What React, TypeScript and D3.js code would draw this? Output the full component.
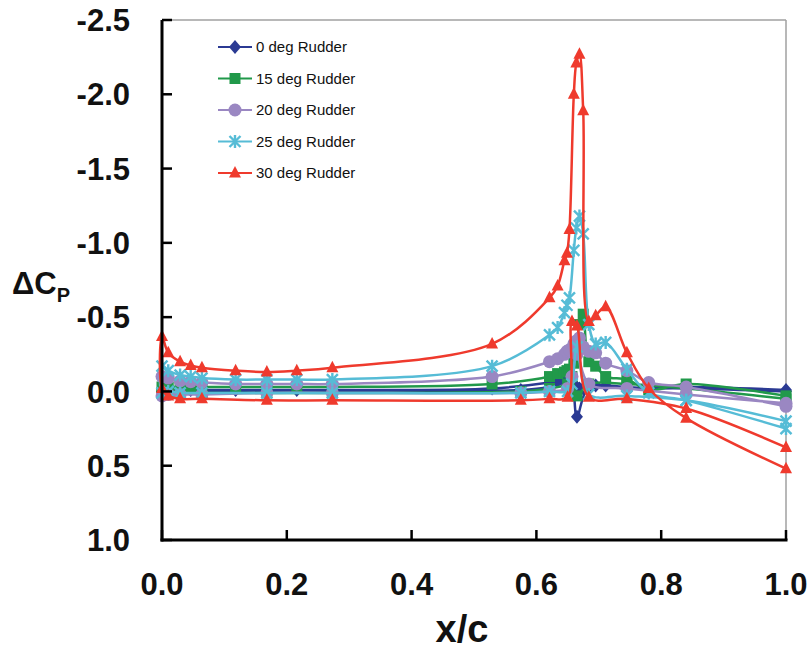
import * as d3 from "d3"

// chordwise stations (x/c)
const upperX = [0, 0.01, 0.029, 0.046, 0.064, 0.118, 0.168, 0.216, 0.273, 0.529, 0.621, 0.634, 0.645, 0.649, 0.653, 0.66, 0.664, 0.669, 0.675, 0.684, 0.695, 0.711, 0.745, 0.78, 0.84, 1.0]
const lowerX = [0, 0.01, 0.029, 0.064, 0.168, 0.273, 0.575, 0.621, 0.65, 0.657, 0.665, 0.684, 0.745, 0.84, 1.0]

const seriesNames = ["0 deg Rudder", "15 deg Rudder", "20 deg Rudder", "25 deg Rudder", "30 deg Rudder"]

// upper surface ΔCp
const upper0 = [0.0, 0.0, -0.01, -0.01, -0.01, -0.01, -0.01, -0.01, -0.01, -0.02, -0.06, -0.07, -0.08, -0.09, -0.1, -0.05, -0.03, -0.02, -0.02, -0.03, -0.04, -0.04, -0.03, -0.02, -0.03, -0.01]
const upper15 = [-0.03, -0.03, -0.03, -0.03, -0.03, -0.03, -0.03, -0.03, -0.03, -0.05, -0.1, -0.12, -0.13, -0.14, -0.15, -0.19, -0.3, -0.45, -0.52, -0.2, -0.17, -0.1, -0.08, -0.01, -0.05, 0.03]
const upper20 = [-0.1, -0.09, -0.07, -0.065, -0.06, -0.05, -0.05, -0.05, -0.05, -0.1, -0.2, -0.22, -0.25, -0.27, -0.28, -0.32, -0.34, -0.36, -0.3, -0.27, -0.26, -0.19, -0.14, -0.06, -0.03, 0.1]
const upper25 = [-0.17, -0.14, -0.11, -0.1, -0.09, -0.08, -0.08, -0.08, -0.08, -0.17, -0.38, -0.43, -0.53, -0.58, -0.63, -0.95, -1.1, -1.18, -1.06, -0.45, -0.32, -0.33, -0.15, 0.01, 0.06, 0.25]
const upper30 = [-0.37, -0.26, -0.2, -0.175, -0.16, -0.14, -0.13, -0.14, -0.16, -0.32, -0.63, -0.71, -0.88, -0.93, -1.09, -2.0, -2.21, -2.27, -1.89, -0.47, -0.51, -0.57, -0.26, -0.02, 0.18, 0.52]

// lower surface ΔCp
const lower0 = [0.0, 0.0, 0.0, 0.0, 0.0, 0.0, -0.01, -0.03, -0.06, -0.05, 0.17, -0.03, -0.02, -0.02, 0.0]
const lower15 = [0.01, 0.01, 0.01, 0.01, 0.01, 0.01, 0.0, -0.02, -0.05, -0.1, 0.03, -0.05, -0.05, -0.02, 0.05]
const lower20 = [0.03, 0.02, 0.02, 0.02, 0.01, 0.01, 0.01, 0.0, -0.02, -0.1, -0.25, -0.05, -0.02, 0.02, 0.08]
const lower25 = [0.01, 0.0, 0.01, 0.01, 0.01, 0.01, 0.01, 0.0, 0.0, -0.05, -0.3, 0.02, 0.03, 0.06, 0.2]
const lower30 = [-0.02, 0.03, 0.05, 0.05, 0.06, 0.06, 0.06, 0.05, 0.04, -0.47, -0.44, 0.04, 0.05, 0.115, 0.377]

const yTicks = [-2.5, -2.0, -1.5, -1.0, -0.5, 0.0, 0.5, 1.0]
const xTicks = [0, 0.2, 0.4, 0.6, 0.8, 1.0]

const colors = ["#2b3a93", "#21994a", "#9a87c2", "#56bcd6", "#ef3a2d"]
const shapes = ["diamond", "square", "circle", "star", "triangle"]

const W = 812
const H = 652
const margin = { left: 162, right: 24, top: 20, bottom: 112 }
const FONT = "'Liberation Sans', Arial, sans-serif"

function Marker({ shape, x, y, color }: { shape: string; x: number; y: number; color: string }) {
  if (shape === "diamond") {
    return <path d={`M${x},${y - 7}L${x + 6},${y}L${x},${y + 7}L${x - 6},${y}Z`} fill={color} />
  }
  if (shape === "square") {
    return <rect x={x - 5.5} y={y - 5.5} width={11} height={11} fill={color} />
  }
  if (shape === "circle") {
    return <circle cx={x} cy={y} r={6.5} fill={color} />
  }
  if (shape === "triangle") {
    return <path d={`M${x},${y - 7}L${x + 6},${y + 4.5}L${x - 6},${y + 4.5}Z`} fill={color} />
  }
  // asterisk
  const a = 5.5
  return (
    <path
      d={`M${x - a},${y - a}L${x + a},${y + a}M${x - a},${y + a}L${x + a},${y - a}M${x},${y - a - 1}L${x},${y + a + 1}`}
      stroke={color}
      strokeWidth={2.4}
      fill="none"
    />
  )
}

export default function App() {
  const x = d3.scaleLinear().domain([0, 1]).range([margin.left, W - margin.right - 2])
  const y = d3.scaleLinear().domain([-2.5, 1.0]).range([margin.top, H - margin.bottom])

  const uppers = [upper0, upper15, upper20, upper25, upper30]
  const lowers = [lower0, lower15, lower20, lower25, lower30]

  // each run goes trailing edge -> leading edge on the lower side, then back on the upper side
  const series = seriesNames.map((name, i) => {
    const low = lowerX.map((xv, j) => ({ x: xv, v: lowers[i][j] })).reverse()
    const up = upperX.map((xv, j) => ({ x: xv, v: uppers[i][j] }))
    return { name, color: colors[i], shape: shapes[i], pts: [...low, ...up] }
  })

  const line = d3
    .line<{ x: number; v: number }>()
    .x((d) => x(d.x))
    .y((d) => y(d.v))
    .curve(d3.curveCatmullRom.alpha(0.5))

  const x0 = x(0)
  const x1 = x(1)
  const yTop = y(-2.5)
  const yBot = y(1.0)

  return (
    <div style={{ position: "absolute", left: 0, top: 0 }}>
      <svg width={W} height={H} style={{ display: "block", background: "#fff" }}>
        {/* frame */}
        <line x1={x0} x2={x1} y1={yTop} y2={yTop} stroke="#a0a0a0" strokeWidth={1.5} />
        <line x1={x1} x2={x1} y1={yTop} y2={yBot} stroke="#a0a0a0" strokeWidth={1.5} />

        {/* series */}
        {series.map((s) => (
          <g key={s.name}>
            <path d={line(s.pts) || ""} fill="none" stroke={s.color} strokeWidth={2.5} />
            {s.pts.map((p, k) => (
              <Marker key={k} shape={s.shape} x={x(p.x)} y={y(p.v)} color={s.color} />
            ))}
          </g>
        ))}

        {/* axes */}
        <line x1={x0} x2={x0} y1={yTop} y2={yBot + 1.5} stroke="#000" strokeWidth={3} />
        <line x1={x0 - 1.5} x2={x1 + 1.5} y1={yBot} y2={yBot} stroke="#000" strokeWidth={3} />
        {yTicks.map((t) => (
          <g key={t}>
            <line x1={x0} x2={x0 + 10} y1={y(t)} y2={y(t)} stroke="#000" strokeWidth={2.5} />
            <text
              x={x0 - 32}
              y={y(t)}
              dy="0.36em"
              textAnchor="end"
              fontFamily={FONT}
              fontWeight="bold"
              fontSize={31}
              fill="#111"
            >
              {t.toFixed(1)}
            </text>
          </g>
        ))}
        {xTicks.map((t) => (
          <g key={t}>
            <line x1={x(t)} x2={x(t)} y1={yBot} y2={yBot - 10} stroke="#000" strokeWidth={2.5} />
            <text
              x={x(t)}
              y={yBot + 55}
              textAnchor="middle"
              fontFamily={FONT}
              fontWeight="bold"
              fontSize={31}
              fill="#111"
            >
              {t.toFixed(1)}
            </text>
          </g>
        ))}

        {/* axis titles */}
        <text x={462} y={642} textAnchor="middle" fontFamily={FONT} fontWeight="bold" fontSize={38} fill="#111">
          x/c
        </text>
        <text x={12} y={294} fontFamily={FONT} fontWeight="bold" fontSize={31} fill="#111">
          ΔC
          <tspan fontSize={20} dy={8}>P</tspan>
        </text>

        {/* legend */}
        {series.map((s, i) => {
          const ly = 47 + i * 31.5
          return (
            <g key={s.name}>
              <line x1={218} x2={252} y1={ly} y2={ly} stroke={s.color} strokeWidth={2.2} />
              <Marker shape={s.shape} x={235} y={ly} color={s.color} />
              <text x={256} y={ly} dy="0.36em" fontFamily={FONT} fontSize={15} fill="#111">
                {s.name}
              </text>
            </g>
          )
        })}
      </svg>
    </div>
  )
}
